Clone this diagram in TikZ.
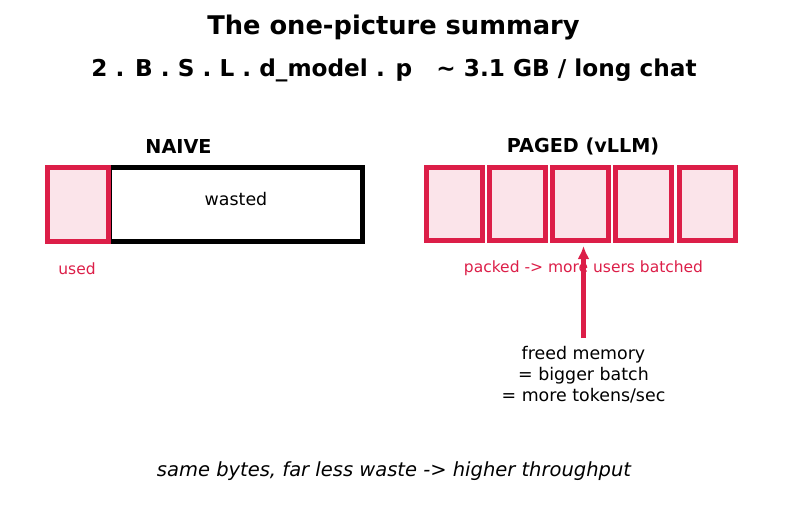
\documentclass[tikz,border=0pt]{standalone}
\usepackage{fontspec}
\setmainfont{DejaVu Sans}
\usetikzlibrary{arrows.meta}
\definecolor{crim}{RGB}{220,30,72}
\definecolor{pinkfill}{RGB}{251,228,234}
\tikzset{
  x=1pt,y=-1pt,
  title/.style={font=\fontsize{25.7}{30}\selectfont\bfseries},
  subtitle/.style={font=\fontsize{23.2}{28}\selectfont\bfseries},
  head/.style={font=\fontsize{19.2}{23}\selectfont\bfseries},
  txt/.style={font=\fontsize{17.4}{21}\selectfont, align=center},
  small/.style={font=\fontsize{15.5}{19}\selectfont, text=crim},
  usedbox/.style={draw=crim, fill=pinkfill, line width=5pt},
  wastebox/.style={draw=black, fill=white, line width=5pt},
  arr/.style={draw=crim, line width=4.2pt, -{Latex[length=13pt,width=12pt]}},
}
\begin{document}
\begin{tikzpicture}
\useasboundingbox (0,0) rectangle (787,512);
\node[title] (t1) at (393.5,28) {The one-picture summary};
\node[subtitle] (t2) at (394,70) {2 . B . S . L . d\_model . p\ \ \ \char`~\ 3.1 GB / long chat};

\node[head] (naive) at (178.5,146) {NAIVE};
\node[wastebox, minimum width=253pt, minimum height=74pt, inner sep=0pt] (waste) at (235.5,204) {};
\node[txt] (wastedlbl) at (236,199.5) {wasted};
\node[usedbox, minimum width=61pt, minimum height=74pt, inner sep=0pt] (used) at (78,204) {};
\node[small] (usedlbl) at (77,268.5) {used};

\node[head] (paged) at (583,146) {PAGED (vLLM)};
\foreach \i/\cx in {1/454.5,2/517.5,3/580.5,4/643.5,5/707.5}{
  \node[usedbox, minimum width=56pt, minimum height=73pt, inner sep=0pt] (p\i) at (\cx,204) {};
}
\node[small] (packed) at (583.5,268.5) {packed -> more users batched};

\node[txt] (freed) at (583.5,375) {freed memory\\= bigger batch\\= more tokens/sec};
\coordinate (astart) at (583.5,338);
\coordinate (aend) at (583.5,246);
\draw[arr] (astart) -- (aend);

\node[font=\fontsize{19.5}{24}\selectfont\itshape] (bottom) at (394,471.5) {same bytes, far less waste -> higher throughput};
\end{tikzpicture}
\end{document}
